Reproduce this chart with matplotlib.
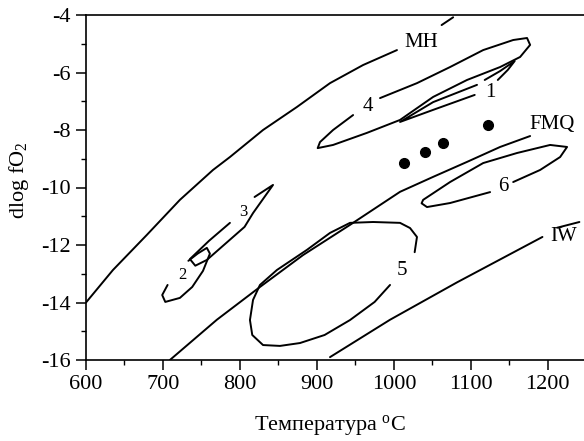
import matplotlib
matplotlib.use("Agg")
import matplotlib.pyplot as plt

plt.rcParams['font.family'] = ['Liberation Serif', 'DejaVu Serif']
plt.rcParams['mathtext.fontset'] = 'custom'
plt.rcParams['mathtext.rm'] = 'Liberation Serif'
plt.rcParams['mathtext.it'] = 'Liberation Serif:italic'
plt.rcParams['axes.unicode_minus'] = False

# ---- data (temperature, dlog fO2) ----
mh_T = [600, 635, 679, 722, 765, 787, 830, 874, 917, 960, 1004]
mh_f = [-14.0, -12.87, -11.65, -10.43, -9.39, -8.94, -8.0, -7.2, -6.37, -5.74, -5.22]
mh_tail_T = [1062, 1077]
mh_tail_f = [-4.35, -4.08]

fmq_T = [709, 770, 826, 882, 943, 1008, 1051, 1095, 1138, 1177]
fmq_f = [-16.0, -14.6, -13.46, -12.35, -11.3, -10.15, -9.63, -9.11, -8.59, -8.21]

iw_T = [917, 995, 1082, 1193]
iw_f = [-15.9, -14.6, -13.3, -11.72]
iw_tail_T = [1212, 1241]
iw_tail_f = [-11.4, -11.2]

field1a_T = [1108, 1051, 1008, 1051, 1105]
field1a_f = [-6.43, -7.03, -7.72, -7.3, -6.78]
field1b_T = [1118, 1138, 1157, 1148, 1135]
field1b_f = [-6.26, -5.95, -5.6, -5.91, -6.26]

field2_T = [706, 699, 703, 722, 738, 752, 761, 757, 745, 733]
field2_f = [-13.39, -13.74, -13.98, -13.84, -13.46, -12.9, -12.3, -12.1, -12.3, -12.55]

field3_T = [819, 843, 817, 806, 757, 742, 735, 760, 787]
field3_f = [-10.33, -9.91, -10.89, -11.37, -12.52, -12.72, -12.49, -11.85, -11.23]

field4_T = [982, 1030, 1073, 1116, 1155, 1173, 1177, 1164, 1138, 1095, 1051, 1008,
            965, 921, 901, 904, 921, 947]
field4_f = [-6.89, -6.37, -5.81, -5.22, -4.87, -4.8, -5.04, -5.46, -5.81, -6.26, -6.85,
            -7.65, -8.1, -8.52, -8.63, -8.42, -8.0, -7.48]

field5_T = [1027, 1030, 1021, 1008, 973, 943, 917, 887, 848, 826, 817, 813, 816, 830,
            852, 878, 910, 943, 975, 995]
field5_f = [-12.25, -11.72, -11.41, -11.23, -11.2, -11.23, -11.58, -12.17, -12.87, -13.39,
            -13.91, -14.61, -15.13, -15.48, -15.51, -15.41, -15.13, -14.61, -13.98, -13.39]

field6_T = [1155, 1190, 1216, 1225, 1203, 1160, 1116, 1073, 1038, 1036, 1043, 1073, 1125]
field6_f = [-9.81, -9.39, -8.94, -8.59, -8.52, -8.8, -9.15, -9.81, -10.43, -10.55, -10.68,
            -10.54, -10.16]

dots_T = [1013, 1040, 1064, 1122]
dots_f = [-9.15, -8.77, -8.45, -7.83]

labels = ['MH', 'FMQ', 'IW', '1', '2', '3', '4', '5', '6']
labels_T = [1036, 1206, 1220, 1125, 725, 804, 966, 1010, 1142]
labels_f = [-4.94, -7.8, -11.72, -6.71, -13.04, -10.85, -7.17, -12.87, -9.98]
labels_size = [15, 15, 15, 15, 12, 12, 15, 15, 15]

x_ticks = [600, 700, 800, 900, 1000, 1100, 1200]
y_ticks = [-4, -6, -8, -10, -12, -14, -16]
y_ticklabels = ['-4', '-6', '-8', '-10', '-12', '-14', '-16']

# ---- figure ----
fig = plt.figure(figsize=(5.84, 4.41), dpi=100)
ax = fig.add_axes([86 / 584, 81 / 441, (584 - 86) / 584, (360 - 15) / 441])

lw = 1.4
kw = dict(color='black', lw=lw, solid_joinstyle='round', solid_capstyle='round')
for T, f in [(mh_T, mh_f), (mh_tail_T, mh_tail_f), (fmq_T, fmq_f), (iw_T, iw_f),
             (iw_tail_T, iw_tail_f), (field1a_T, field1a_f), (field1b_T, field1b_f),
             (field2_T, field2_f), (field3_T, field3_f), (field4_T, field4_f),
             (field5_T, field5_f), (field6_T, field6_f)]:
    ax.plot(T, f, **kw)

ax.plot(dots_T, dots_f, 'o', color='black', markersize=7)

for s, x, y, fs in zip(labels, labels_T, labels_f, labels_size):
    ax.text(x, y, s, fontsize=fs, ha='center', va='center')

ax.set_xlim(600, 1247)
ax.set_ylim(-16, -4)
ax.set_xticks(x_ticks)
ax.set_xticks(range(650, 1250, 100), minor=True)
ax.set_yticks(y_ticks)
ax.set_yticklabels(y_ticklabels)
ax.set_yticks(range(-15, -4, 2), minor=True)
ax.tick_params(which='major', direction='out', length=7, width=1.1, labelsize=16, pad=4)
ax.tick_params(which='minor', direction='out', length=3.5, width=1.0)
for side in ['left', 'bottom', 'top']:
    ax.spines[side].set_linewidth(1.2)
ax.spines['right'].set_visible(False)

ax.set_xlabel('Температура $^{\\rm o}$C', fontsize=16)
ax.xaxis.set_label_coords(0.49, -0.155)
ax.set_ylabel('dlog fO$_{\\rm 2}$', fontsize=16)
ax.yaxis.set_label_coords(-0.11, 0.52)

fig.savefig('out.png', dpi=100)
